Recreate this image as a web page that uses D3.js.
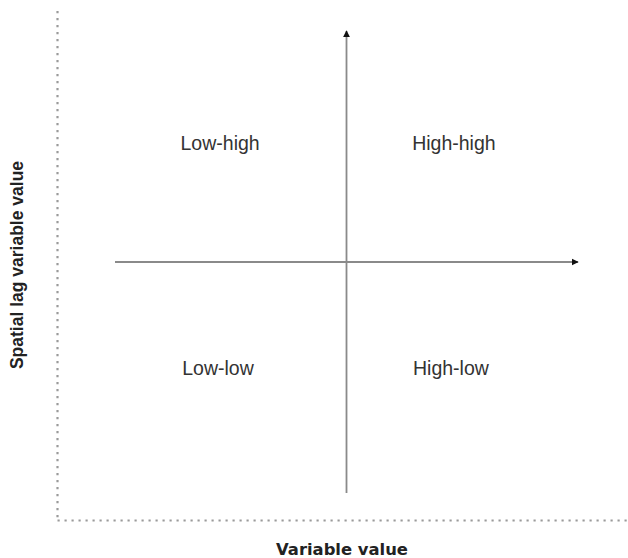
<!DOCTYPE html>
<html>
<head>
<meta charset="utf-8">
<script src="https://cdn.jsdelivr.net/npm/d3@7"></script>
<style>
  body { margin: 0; background: #fff; }
</style>
</head>
<body>
<svg width="628" height="558"></svg>
<script>
var quadrantNames = ["Low-high", "High-high", "Low-low", "High-low"];
var quadrantX = [-0.546, 0.464, -0.555, 0.451];
var quadrantY = [0.485, 0.485, -0.489, -0.489];
var xTitle = "Variable value";
var yTitle = "Spatial lag variable value";

var svg = d3.select("svg"),
    width = +svg.attr("width"),
    height = +svg.attr("height");

var x = d3.scaleLinear().domain([-1, 1]).range([115, 578]);
var y = d3.scaleLinear().domain([-1, 1]).range([493, 31]);

// dotted frame (left + bottom)
var frame = svg.append("g")
    .attr("stroke", "#9a9a9a")
    .attr("stroke-width", 2.2)
    .attr("stroke-dasharray", "2.2,4.8")
    .attr("fill", "none");
frame.append("line").attr("x1", 57.5).attr("y1", 11).attr("x2", 57.5).attr("y2", 520);
frame.append("line").attr("x1", 57.5).attr("y1", 520.5).attr("x2", width).attr("y2", 520.5);

svg.append("defs").append("marker")
    .attr("id", "arrow")
    .attr("viewBox", "0 0 10 10")
    .attr("refX", 9)
    .attr("refY", 5)
    .attr("markerWidth", 4)
    .attr("markerHeight", 4)
    .attr("markerUnits", "strokeWidth")
    .attr("orient", "auto")
  .append("path")
    .attr("d", "M0,0L10,5L0,10z")
    .attr("fill", "#111");

var axes = svg.append("g")
    .attr("stroke", "#8a8a8a")
    .attr("stroke-width", 1.8)
    .attr("marker-end", "url(#arrow)");

axes.append("line")
    .attr("x1", x(-1)).attr("y1", y(0))
    .attr("x2", x(1)).attr("y2", y(0));

axes.append("line")
    .attr("x1", x(0)).attr("y1", y(-1))
    .attr("x2", x(0)).attr("y2", y(1));

svg.append("g")
    .selectAll("text")
    .data(quadrantNames)
    .enter().append("text")
    .attr("x", function(d, i) { return x(quadrantX[i]); })
    .attr("y", function(d, i) { return y(quadrantY[i]); })
    .attr("text-anchor", "middle")
    .style("font-family", "'Liberation Sans', Arial, sans-serif")
    .style("font-size", "19.5px")
    .attr("fill", "#333")
    .text(function(d) { return d; });

svg.append("text")
    .attr("x", 342)
    .attr("y", 555)
    .attr("text-anchor", "middle")
    .style("font-family", "'DejaVu Sans', Verdana, sans-serif")
    .style("font-size", "16.4px")
    .style("font-weight", "bold")
    .attr("fill", "#222")
    .text(xTitle);

svg.append("text")
    .attr("transform", "translate(23," + 265 + ") rotate(-90)")
    .attr("text-anchor", "middle")
    .style("font-family", "'Liberation Sans', Arial, sans-serif")
    .style("font-size", "17.5px")
    .style("font-weight", "bold")
    .attr("fill", "#222")
    .text(yTitle);
</script>
</body>
</html>
